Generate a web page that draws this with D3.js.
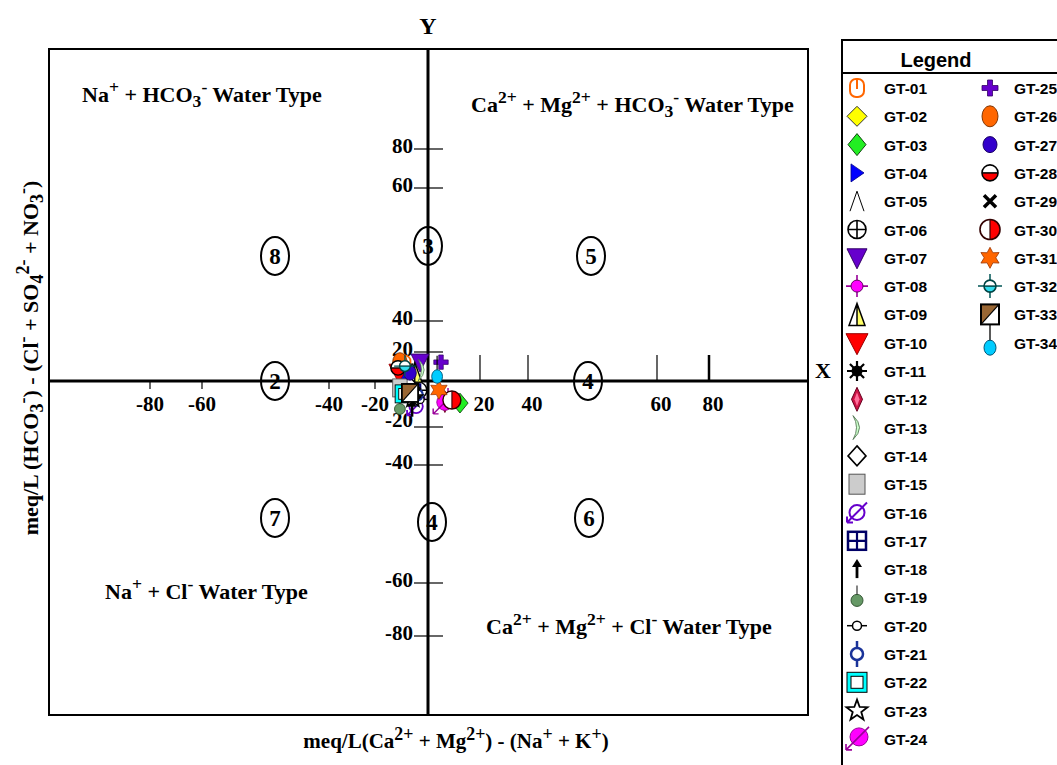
<!DOCTYPE html>
<html>
<head>
<meta charset="utf-8">
<script src="https://cdn.jsdelivr.net/npm/d3@7"></script>
<style>
  html, body { margin: 0; padding: 0; background: #fff; }
  svg { display: block; }
</style>
</head>
<body>
<svg id="chart" width="1057" height="765"></svg>
<script>
// Sample sites and their ionic balance values (meq/L)
const sites = ["GT-01","GT-02","GT-03","GT-04","GT-05","GT-06","GT-07","GT-08","GT-09","GT-10",
  "GT-11","GT-12","GT-13","GT-14","GT-15","GT-16","GT-17","GT-18","GT-19","GT-20",
  "GT-21","GT-22","GT-23","GT-24","GT-25","GT-26","GT-27","GT-28","GT-29","GT-30",
  "GT-31","GT-32","GT-33","GT-34"];
// X: (Ca + Mg) - (Na + K)
const xValues = [-9.0, -8.0, 12.3, -8.7, -6.0, -3.5, -3.0, 7.7, -5.0, -11.0,
  -5.7, 6.5, -2.3, -7.0, -10.6, -4.5, -6.0, -6.0, -10.6, -3.0,
  -4.0, -9.0, -5.7, 5.8, 5.0, -10.6, -6.8, -11.3, -4.9, 9.2,
  4.2, -8.7, -6.8, 3.5];
// Y: HCO3 - (Cl + SO4 + NO3)
const yValues = [12.0, 8.0, -9.6, 4.0, 6.0, -4.0, 13.0, -7.4, 6.0, 6.0,
  -6.5, -9.0, 7.6, -2.0, -3.0, -11.0, -5.0, -12.0, -11.0, -8.0,
  -6.0, -5.6, -7.4, -10.0, 13.0, 13.0, 5.5, 9.0, -5.2, -8.3,
  -3.9, 10.3, -5.2, 6.2];

const xTicks = [-80, -60, -40, -20, 20, 40, 60, 80];
const yTicks = [80, 60, 40, 20, -20, -40, -60, -80];
const scaleStops = [-80, -60, -40, -20, 0, 20, 40, 60, 80];

const svg = d3.select("#chart");
const serif = "'Liberation Serif', 'Times New Roman', serif";
const sans = "'Liberation Sans', Arial, sans-serif";

// The diagram uses hand-spaced gridlines, so the scales are piecewise linear
const x = d3.scaleLinear().domain(scaleStops).range([150, 202, 329, 375, 428, 480, 528, 657, 709]);
const y = d3.scaleLinear().domain(scaleStops).range([636, 583, 465, 427, 381, 352, 321, 188, 149]);

const frame = { left: 49, top: 49, right: 808, bottom: 715 };

// Text with superscript / subscript pieces
function rich(sel, parts, size, ratio) {
  let shift = 0;
  parts.forEach(([t, k]) => {
    const target = k === "sup" ? -0.4 * size : k === "sub" ? 0.22 * size : 0;
    const ts = sel.append("tspan").text(t).attr("dy", target - shift);
    if (k !== "n") ts.attr("font-size", size * (ratio || 0.78));
    shift = target;
  });
  return sel;
}

// Outer frame
svg.append("rect")
  .attr("x", frame.left).attr("y", frame.top)
  .attr("width", frame.right - frame.left).attr("height", frame.bottom - frame.top)
  .attr("fill", "none").attr("stroke", "#000").attr("stroke-width", 2);

// Ticks on the horizontal axis
const xt = svg.append("g");
xTicks.forEach(v => {
  const px = x(v);
  if (v < 0) {
    xt.append("line").attr("x1", px).attr("x2", px).attr("y1", y(0)).attr("y2", y(0) + 8)
      .attr("stroke", "#000").attr("stroke-width", 1.2);
  } else {
    xt.append("line").attr("x1", px).attr("x2", px).attr("y1", y(0) - 26).attr("y2", y(0))
      .attr("stroke", "#000").attr("stroke-width", v === 80 ? 2.5 : 1.2);
  }
  xt.append("text").attr("x", px + (v > 0 ? 4 : 0)).attr("y", 411)
    .attr("text-anchor", "middle").attr("font-family", serif).attr("font-weight", "bold")
    .attr("font-size", 21).text(v);
});

// Ticks on the vertical axis
const yt = svg.append("g");
yTicks.forEach(v => {
  const py = y(v);
  yt.append("line").attr("x1", x(0) - 14).attr("x2", x(0) + 15).attr("y1", py).attr("y2", py)
    .attr("stroke", "#000").attr("stroke-width", 1.2);
  yt.append("text").attr("x", x(0) - 15).attr("y", py + (v === -20 ? 0 : 4))
    .attr("text-anchor", "end").attr("font-family", serif).attr("font-weight", "bold")
    .attr("font-size", 21).text(v);
});

// Main axes through the origin
svg.append("line").attr("x1", frame.left).attr("x2", frame.right).attr("y1", y(0)).attr("y2", y(0))
  .attr("stroke", "#000").attr("stroke-width", 3);
svg.append("line").attr("x1", x(0)).attr("x2", x(0)).attr("y1", frame.top).attr("y2", frame.bottom)
  .attr("stroke", "#000").attr("stroke-width", 3);

svg.append("text").attr("x", x(0)).attr("y", 34).attr("text-anchor", "middle")
  .attr("font-family", serif).attr("font-weight", "bold").attr("font-size", 24).text("Y");
svg.append("text").attr("x", 823).attr("y", 378).attr("text-anchor", "middle")
  .attr("font-family", serif).attr("font-weight", "bold").attr("font-size", 22).text("X");

// Water type labels
const quadLabels = [
  { x: 82, y: 102, parts: [["Na","n"],["+","sup"],["  + HCO","n"],["3","sub"],["-","sup"],["    Water Type","n"]] },
  { x: 471, y: 112, parts: [["Ca","n"],["2+","sup"],[" + Mg","n"],["2+","sup"],[" + HCO","n"],["3","sub"],["-","sup"],["  Water Type","n"]] },
  { x: 105, y: 599, parts: [["Na","n"],["+","sup"],[" + Cl","n"],["-","sup"],["  Water Type","n"]] },
  { x: 486, y: 634, parts: [["Ca","n"],["2+","sup"],[" + Mg","n"],["2+","sup"],[" + Cl","n"],["-","sup"],["  Water Type","n"]] }
];
quadLabels.forEach(q => {
  const t = svg.append("text").attr("x", q.x).attr("y", q.y)
    .attr("font-family", serif).attr("font-weight", "bold").attr("font-size", 22);
  rich(t, q.parts, 22, 0.8);
});

// Numbered zones
const zones = [
  { n: "8", cx: 275, cy: 256 }, { n: "3", cx: 428, cy: 246 }, { n: "5", cx: 591, cy: 256 },
  { n: "2", cx: 275, cy: 381 }, { n: "4", cx: 588, cy: 381 },
  { n: "7", cx: 275, cy: 518 }, { n: "4", cx: 432, cy: 522 }, { n: "6", cx: 589, cy: 518 }
];
zones.forEach(z => {
  svg.append("ellipse").attr("cx", z.cx).attr("cy", z.cy).attr("rx", 14).attr("ry", 19)
    .attr("fill", "none").attr("stroke", "#000").attr("stroke-width", 2);
  svg.append("text").attr("x", z.cx).attr("y", z.cy + 8).attr("text-anchor", "middle")
    .attr("font-family", serif).attr("font-weight", "bold").attr("font-size", 23).text(z.n);
});

// Axis titles
const xTitle = svg.append("text").attr("x", 456).attr("y", 748).attr("text-anchor", "middle")
  .attr("font-family", serif).attr("font-weight", "bold").attr("font-size", 21);
rich(xTitle, [["meq/L(Ca","n"],["2+","sup"],[" + Mg","n"],["2+","sup"],[") - (Na","n"],["+","sup"],[" + K","n"],["+","sup"],[")","n"]], 21, 0.85);

const yTitle = svg.append("text").attr("transform", "translate(38,358) rotate(-90)")
  .attr("text-anchor", "middle").attr("font-family", serif).attr("font-weight", "bold").attr("font-size", 22);
rich(yTitle, [["meq/L (HCO","n"],["3","sub"],["-","sup"],[") - (Cl","n"],["-","sup"],[" + SO","n"],["4","sub"],["2-","sup"],[" + NO","n"],["3","sub"],["-","sup"],[")","n"]], 22, 0.82);

// Marker glyphs, one per site
function circleHalves(g, r, topFill, bottomFill, stroke, vertical) {
  if (vertical) {
    g.append("path").attr("d", `M0,${-r}A${r},${r} 0 0 0 0,${r}Z`).attr("fill", topFill);
    g.append("path").attr("d", `M0,${-r}A${r},${r} 0 0 1 0,${r}Z`).attr("fill", bottomFill);
    g.append("line").attr("x1", 0).attr("x2", 0).attr("y1", -r).attr("y2", r).attr("stroke", stroke).attr("stroke-width", 1.2);
  } else {
    g.append("path").attr("d", `M${-r},0A${r},${r} 0 0 1 ${r},0Z`).attr("fill", topFill);
    g.append("path").attr("d", `M${-r},0A${r},${r} 0 0 0 ${r},0Z`).attr("fill", bottomFill);
    g.append("line").attr("x1", -r).attr("x2", r).attr("y1", 0).attr("y2", 0).attr("stroke", stroke).attr("stroke-width", 1.5);
  }
  g.append("circle").attr("r", r).attr("fill", "none").attr("stroke", stroke).attr("stroke-width", 1.6);
}
function starPath(points, ro, ri, rot) {
  const pts = [];
  for (let i = 0; i < points * 2; i++) {
    const r = i % 2 === 0 ? ro : ri;
    const a = rot + i * Math.PI / points;
    pts.push([r * Math.sin(a), -r * Math.cos(a)]);
  }
  return "M" + pts.map(p => p[0].toFixed(2) + "," + p[1].toFixed(2)).join("L") + "Z";
}

const glyphs = [
  g => { // 01
    g.append("rect").attr("x", -7).attr("y", -9).attr("width", 14).attr("height", 18).attr("rx", 6)
      .attr("fill", "#fff").attr("stroke", "#ff6600").attr("stroke-width", 2);
    g.append("line").attr("x1", 0).attr("x2", 0).attr("y1", -9).attr("y2", 1).attr("stroke", "#ff6600").attr("stroke-width", 2);
  },
  g => g.append("path").attr("d", "M0,-10L10,0L0,10L-10,0Z").attr("fill", "#ffff00").attr("stroke", "#333").attr("stroke-width", 1),
  g => g.append("path").attr("d", "M0,-11L9,0L0,11L-9,0Z").attr("fill", "#22ee22").attr("stroke", "#114411").attr("stroke-width", 1),
  g => g.append("path").attr("d", "M-6,-9L7,0L-6,9Z").attr("fill", "#0000ff").attr("stroke", "#000088").attr("stroke-width", 0.8),
  g => g.append("path").attr("d", "M-7,10L0,-10L7,10").attr("fill", "none").attr("stroke", "#000").attr("stroke-width", 1),
  g => { // 06
    g.append("circle").attr("r", 9).attr("fill", "#fff").attr("stroke", "#000").attr("stroke-width", 1.6);
    g.append("path").attr("d", "M-9,0H9M0,-9V9").attr("stroke", "#000").attr("stroke-width", 1.6);
  },
  g => g.append("path").attr("d", "M-10,-9L10,-9L0,11Z").attr("fill", "#6600cc").attr("stroke", "#330066").attr("stroke-width", 1),
  g => { // 08
    g.append("path").attr("d", "M-11,0H11M0,-11V11").attr("stroke", "#990099").attr("stroke-width", 1.6);
    g.append("circle").attr("r", 6).attr("fill", "#ff00ff").attr("stroke", "#660066").attr("stroke-width", 1);
  },
  g => { // 09
    g.append("path").attr("d", "M-8,11L0,-11L0,11Z").attr("fill", "#fff");
    g.append("path").attr("d", "M0,-11L8,11L0,11Z").attr("fill", "#ffff66");
    g.append("path").attr("d", "M-8,11L0,-11L8,11ZM0,-11V11").attr("fill", "none").attr("stroke", "#000").attr("stroke-width", 1.5);
  },
  g => g.append("path").attr("d", "M-11,-9L11,-9L0,12Z").attr("fill", "#ff0000").attr("stroke", "#990000").attr("stroke-width", 1),
  g => { // 11
    g.append("path").attr("d", d3.range(8).map(i => {
      const a = i * Math.PI / 4;
      return `M0,0L${(10 * Math.cos(a)).toFixed(2)},${(10 * Math.sin(a)).toFixed(2)}`;
    }).join("")).attr("stroke", "#000").attr("stroke-width", 2.2);
    g.append("circle").attr("r", 5.5).attr("fill", "#000");
  },
  g => { // 12
    g.append("path").attr("d", "M0,-12L5.5,0L0,12L-5.5,0Z").attr("fill", "#cc1144").attr("stroke", "#66001f").attr("stroke-width", 1);
    g.append("path").attr("d", "M0,-7L2.5,0L0,7L-2.5,0Z").attr("fill", "#ff6f9a");
  },
  g => g.append("path").attr("d", "M-4,-12Q9,0 -4,12Q3,0 -4,-12Z").attr("fill", "#ccffcc").attr("stroke", "#446644").attr("stroke-width", 0.8),
  g => g.append("path").attr("d", "M0,-10L9,0L0,10L-9,0Z").attr("fill", "#fff").attr("stroke", "#000").attr("stroke-width", 1.6),
  g => g.append("rect").attr("x", -8).attr("y", -10).attr("width", 16).attr("height", 20).attr("fill", "#cccccc").attr("stroke", "#555").attr("stroke-width", 1),
  g => { // 16
    g.append("circle").attr("r", 7.5).attr("fill", "none").attr("stroke", "#6600cc").attr("stroke-width", 2);
    g.append("path").attr("d", "M10,-10L-10,10M-10,10L-10,4M-10,10L-4,10").attr("stroke", "#6600cc").attr("stroke-width", 2).attr("fill", "none");
  },
  g => { // 17
    g.append("rect").attr("x", -9).attr("y", -9).attr("width", 18).attr("height", 18).attr("fill", "#fff").attr("stroke", "#000066").attr("stroke-width", 2.5);
    g.append("path").attr("d", "M-9,0H9M0,-9V9").attr("stroke", "#000066").attr("stroke-width", 2.2);
  },
  g => { // 18
    g.append("line").attr("x1", 0).attr("x2", 0).attr("y1", 9).attr("y2", -3).attr("stroke", "#000").attr("stroke-width", 2.8);
    g.append("path").attr("d", "M-5,-2L0,-10L5,-2Z").attr("fill", "#000");
  },
  g => { // 19
    g.append("line").attr("x1", 0).attr("x2", 0).attr("y1", -12).attr("y2", 0).attr("stroke", "#333").attr("stroke-width", 1.2);
    g.append("circle").attr("cy", 3).attr("r", 6).attr("fill", "#669966").attr("stroke", "#335533").attr("stroke-width", 1);
  },
  g => { // 20
    g.append("line").attr("x1", -10).attr("x2", 10).attr("stroke", "#000").attr("stroke-width", 1.5);
    g.append("circle").attr("r", 4.5).attr("fill", "#fff").attr("stroke", "#000").attr("stroke-width", 1.5);
  },
  g => { // 21
    g.append("line").attr("y1", -13).attr("y2", 13).attr("stroke", "#1a3399").attr("stroke-width", 2.5);
    g.append("circle").attr("r", 6).attr("fill", "#fff").attr("stroke", "#1a3399").attr("stroke-width", 2.5);
  },
  g => { // 22
    g.append("rect").attr("x", -10).attr("y", -10).attr("width", 20).attr("height", 20).attr("fill", "#00ffff").attr("stroke", "#000").attr("stroke-width", 1);
    g.append("rect").attr("x", -6).attr("y", -6).attr("width", 12).attr("height", 12).attr("fill", "#fff").attr("stroke", "#000").attr("stroke-width", 1);
  },
  g => g.append("path").attr("d", starPath(5, 11, 4.5, 0)).attr("fill", "#fff").attr("stroke", "#000").attr("stroke-width", 1.8),
  g => { // 24
    g.append("circle").attr("cx", 2).attr("cy", -2).attr("r", 9).attr("fill", "#ff00ff").attr("stroke", "#990099").attr("stroke-width", 1);
    g.append("path").attr("d", "M12,-12L-11,11M-11,11L-11,5M-11,11L-5,11").attr("stroke", "#990099").attr("stroke-width", 1.6).attr("fill", "none");
  },
  g => g.append("path").attr("d", "M-2.5,-8H2.5V-2.5H8V2.5H2.5V8H-2.5V2.5H-8V-2.5H-2.5Z").attr("fill", "#6600cc").attr("stroke", "#330066").attr("stroke-width", 0.8),
  g => g.append("ellipse").attr("rx", 8).attr("ry", 10.5).attr("fill", "#ff6600").attr("stroke", "#803300").attr("stroke-width", 1),
  g => g.append("ellipse").attr("rx", 7).attr("ry", 8).attr("fill", "#3300cc").attr("stroke", "#1a0066").attr("stroke-width", 1),
  g => circleHalves(g, 8, "#fff", "#ff0000", "#000", false),
  g => g.append("path").attr("d", "M-6,-6L6,6M6,-6L-6,6").attr("stroke", "#000").attr("stroke-width", 3.5),
  g => circleHalves(g, 10, "#fff", "#ff0000", "#330000", true),
  g => g.append("path").attr("d", starPath(6, 10.5, 5.8, 0)).attr("fill", "#ff6600").attr("stroke", "#993300").attr("stroke-width", 0.8),
  g => { // 32
    g.append("path").attr("d", "M-12,0H12M0,-12V12").attr("stroke", "#005555").attr("stroke-width", 1.5);
    circleHalves(g, 6, "#fff", "#33ddee", "#004444", false);
  },
  g => { // 33
    g.append("path").attr("d", "M-9,-10H9L-9,10Z").attr("fill", "#996633");
    g.append("path").attr("d", "M9,-10V10H-9Z").attr("fill", "#fff");
    g.append("rect").attr("x", -9).attr("y", -10).attr("width", 18).attr("height", 20).attr("fill", "none").attr("stroke", "#000").attr("stroke-width", 2);
    g.append("line").attr("x1", 9).attr("y1", -10).attr("x2", -9).attr("y2", 10).attr("stroke", "#000").attr("stroke-width", 1.2);
  },
  g => { // 34
    g.append("line").attr("y1", -18).attr("y2", 0).attr("stroke", "#000").attr("stroke-width", 1.3);
    g.append("ellipse").attr("cy", 5).attr("rx", 6).attr("ry", 7.5).attr("fill", "#00ccff").attr("stroke", "#005577").attr("stroke-width", 1);
  }
];

// Sample points
const points = svg.append("g");
sites.forEach((s, i) => {
  const g = points.append("g").attr("transform", `translate(${x(xValues[i])},${y(yValues[i])}) scale(0.9)`);
  glyphs[i](g);
});

// Legend panel
const legend = svg.append("g");
legend.append("rect").attr("x", 842).attr("y", 40).attr("width", 240).attr("height", 760)
  .attr("fill", "#fff").attr("stroke", "#000").attr("stroke-width", 2);
legend.append("line").attr("x1", 842).attr("x2", 1057).attr("y1", 73).attr("y2", 73)
  .attr("stroke", "#000").attr("stroke-width", 2);
legend.append("text").attr("x", 936).attr("y", 67).attr("text-anchor", "middle")
  .attr("font-family", sans).attr("font-weight", "bold").attr("font-size", 20).text("Legend");

const perCol = 24;
sites.forEach((s, i) => {
  const col = i < perCol ? 0 : 1;
  const row = col === 0 ? i : i - perCol;
  const ry = 88 + row * 28.3;
  const gx = col === 0 ? 857 : 990;
  const g = legend.append("g").attr("transform", `translate(${gx},${ry})`);
  glyphs[i](g);
  legend.append("text").attr("x", col === 0 ? 884 : 1014).attr("y", ry + 6)
    .attr("font-family", sans).attr("font-weight", "bold").attr("font-size", 15.5).text(s);
});
</script>
</body>
</html>
